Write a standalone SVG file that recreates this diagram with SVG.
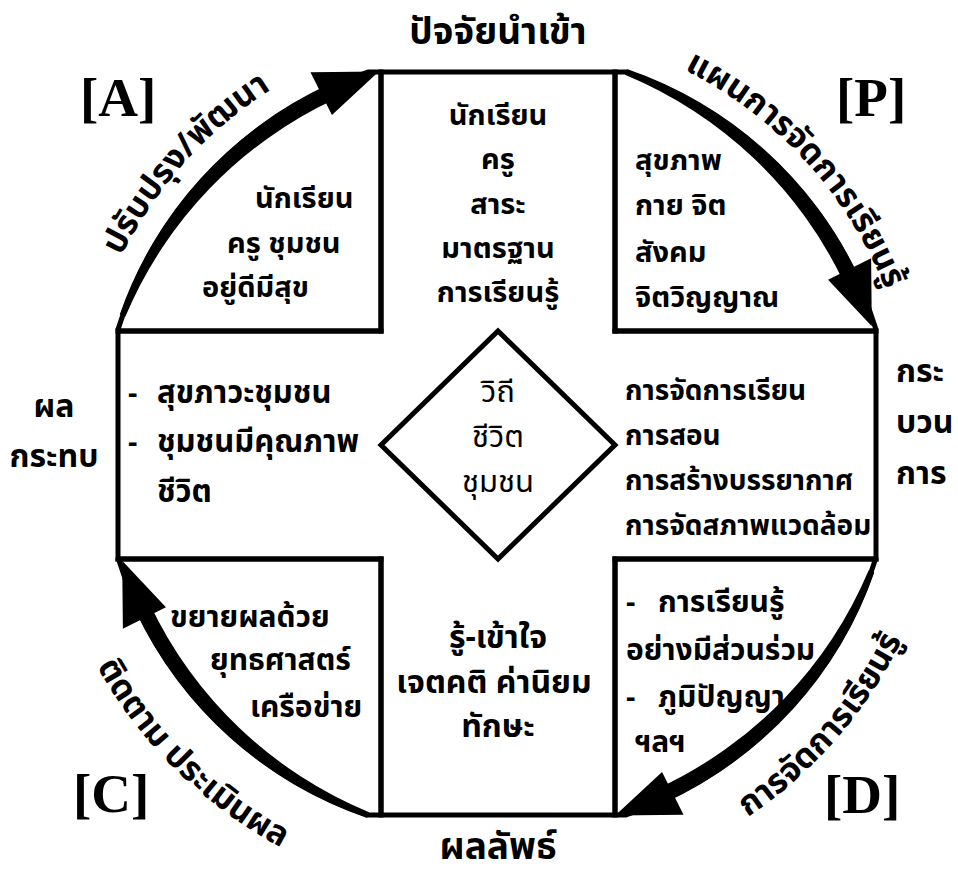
<svg xmlns="http://www.w3.org/2000/svg" width="958" height="878" viewBox="0 0 958 878">
<style>
.ln{fill:none;stroke:#000;stroke-width:5;stroke-linejoin:miter;stroke-linecap:square}
.t{font-family:"Noto Sans Thai","Noto Sans","DejaVu Sans",sans-serif;font-size:29px;font-weight:bold;fill:#000}
.big{font-size:32px}
.tl{font-size:37px}
.cv{font-size:34px}
.lab{font-family:"Liberation Serif",serif;font-size:55px;font-weight:bold;fill:#000}
.mid{text-anchor:middle}
</style>
<defs>
<path id="arrow" d="M129.58,-376.32 A398,398 0 0 1 360.71,-168.20 L346.21,-161.44 A420,420 0 0 0 127.62,-370.64 Z M330.23,-164.65 L373.19,-186.07 L373.86,-117.88 Z" fill="#000"/>
<path id="pTL" d="M77,443.5 A420,420 0 0 1 453.1,25.8"/>
<path id="pTR" d="M537.1,27.4 A418,418 0 0 1 915,439.85"/>
<path id="pBR" d="M551.8,890.1 A450,450 0 0 0 946.9,435.6"/>
<path id="pBL" d="M39.9,471.5 A458,458 0 0 0 477,901.1"/>
</defs>
<rect width="958" height="878" fill="#fff"/>

<g id="input-arm">
<path class="ln" d="M381,331 V72 H615 V331"/>
<text class="t tl mid" x="498" y="44">ปัจจัยนำเข้า</text>
<text class="t mid" x="498" y="125">นักเรียน</text>
<text class="t mid" x="498" y="169">ครู</text>
<text class="t mid" x="498" y="214">สาระ</text>
<text class="t mid" x="498" y="258">มาตรฐาน</text>
<text class="t mid" x="498" y="302">การเรียนรู้</text>
</g>

<g id="process-arm">
<path class="ln" d="M615,331 H876 V559 H615"/>
<text class="t" x="625" y="400" style="font-size:28px">การจัดการเรียน</text>
<text class="t" x="625" y="445" style="font-size:28px">การสอน</text>
<text class="t" x="625" y="490" style="font-size:28px">การสร้างบรรยากาศ</text>
<text class="t" x="625" y="535" style="font-size:28px">การจัดสภาพแวดล้อม</text>
<text class="t big" x="896" y="382">กระ</text>
<text class="t big" x="896" y="433">บวน</text>
<text class="t big" x="896" y="484">การ</text>
</g>

<g id="output-arm">
<path class="ln" d="M381,559 V815 H615 V559"/>
<text class="t big mid" x="498" y="648">รู้-เข้าใจ</text>
<text class="t big mid" x="494" y="693">เจตคติ ค่านิยม</text>
<text class="t big mid" x="498" y="737">ทักษะ</text>
<text class="t tl mid" x="498" y="859">ผลลัพธ์</text>
</g>

<g id="impact-arm">
<path class="ln" d="M381,331 H118 V559 H381"/>
<text class="t" x="128" y="403">-</text>
<text class="t" x="157" y="403" style="font-size:31px">สุขภาวะชุมชน</text>
<text class="t" x="128" y="452">-</text>
<text class="t" x="157" y="452" style="font-size:31px">ชุมชนมีคุณภาพ</text>
<text class="t" x="157" y="502" style="font-size:31px">ชีวิต</text>
<text class="t big mid" x="54" y="417">ผล</text>
<text class="t big mid" x="54" y="467">กระทบ</text>
</g>

<g id="center">
<path class="ln" d="M498,331 L615,445 L498,559 L381,445 Z"/>
<text class="t mid" x="498" y="402" style="font-weight:normal;font-size:31px">วิถี</text>
<text class="t mid" x="498" y="447" style="font-weight:normal;font-size:31px">ชีวิต</text>
<text class="t mid" x="498" y="492" style="font-weight:normal;font-size:31px">ชุมชน</text>
</g>

<g id="box-A">
<path class="ln" d="M118,331 H381 V72 H368 A396,393 0 0 0 118,329.6 Z"/>
<text class="t" x="255" y="208">นักเรียน</text>
<text class="t" x="227" y="253">ครู ชุมชน</text>
<text class="t" x="202" y="297">อยู่ดีมีสุข</text>
<text class="lab" x="80" y="116">[A]</text>
</g>

<g id="box-P">
<path class="ln" d="M615,331 V72 H626 A396,393 0 0 1 876,329.6 V331 Z"/>
<text class="t" x="635" y="170">สุขภาพ</text>
<text class="t" x="635" y="215">กาย จิต</text>
<text class="t" x="635" y="262">สังคม</text>
<text class="t" x="635" y="307">จิตวิญญาณ</text>
<text class="lab" x="836" y="116">[P]</text>
</g>

<g id="box-D">
<path class="ln" d="M615,559 H876 V557.4 A396,393 0 0 1 626,815 H615 Z"/>
<text class="t" x="626" y="612">-</text>
<text class="t" x="658" y="612" style="font-size:30px">การเรียนรู้</text>
<text class="t" x="626" y="660" style="font-size:30px">อย่างมีส่วนร่วม</text>
<text class="t" x="626" y="707">-</text>
<text class="t" x="658" y="707" style="font-size:30px">ภูมิปัญญา</text>
<text class="t" x="635" y="752" style="font-size:30px">ฯลฯ</text>
<text class="lab" x="824" y="813">[D]</text>
</g>

<g id="box-C">
<path class="ln" d="M381,559 V815 H368 A396,393 0 0 1 118,557.4 V559 Z"/>
<text class="t" x="170" y="627" style="font-size:30px">ขยายผลด้วย</text>
<text class="t" x="210" y="670" style="font-size:30px">ยุทธศาสตร์</text>
<text class="t" x="250" y="717" style="font-size:30px">เครือข่าย</text>
<text class="lab" x="73" y="812">[C]</text>
</g>

<g id="connectors">
<use href="#arrow" transform="translate(497 443.5) scale(1.0025 0.995)"/>
<use href="#arrow" transform="translate(497 443.5) scale(1.0025 0.995) rotate(90)"/>
<use href="#arrow" transform="translate(497 443.5) scale(1.0025 0.995) rotate(180)"/>
<use href="#arrow" transform="translate(497 443.5) scale(1.0025 0.995) rotate(270)"/>
<text class="t cv"><textPath href="#pTL" startOffset="50%" text-anchor="middle">ปรับปรุง/พัฒนา</textPath></text>
<text class="t cv"><textPath href="#pTR" startOffset="50%" text-anchor="middle">แผนการจัดการเรียนรู้</textPath></text>
<text class="t cv"><textPath href="#pBR" startOffset="50%" text-anchor="middle">การจัดการเรียนรู้</textPath></text>
<text class="t cv"><textPath href="#pBL" startOffset="50%" text-anchor="middle">ติดตาม ประเมินผล</textPath></text>
</g>
</svg>
